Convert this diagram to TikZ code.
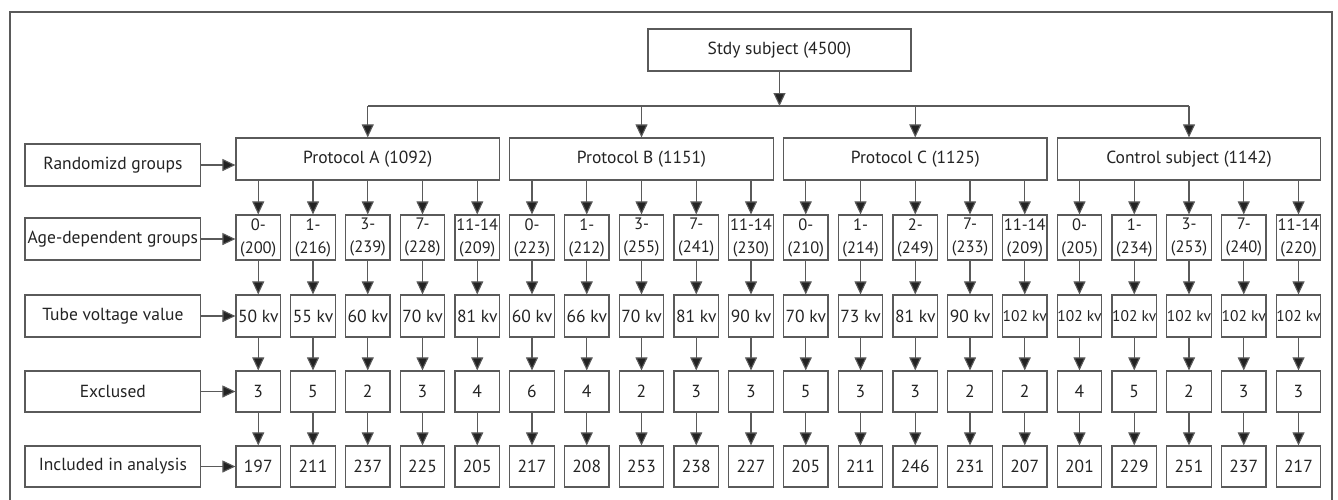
\documentclass[tikz,border=0pt]{standalone}
\usepackage{fontspec}
\setmainfont{PT Sans}
\usetikzlibrary{arrows.meta, positioning}
\definecolor{boxgray}{RGB}{90,90,90}
\definecolor{inkgray}{RGB}{35,35,35}
\newcommand{\smallkv}{\fontsize{15.5}{15.5}\selectfont}

\begin{document}
\begin{tikzpicture}[x=1pt, y=-1pt, font=\fontsize{17.5}{20}\selectfont, text=inkgray,
  box/.style={draw=boxgray, line width=1.2pt, inner sep=0pt, align=center},
  cell/.style={box, minimum width=44.5pt, minimum height=42pt},
  arr/.style={draw=boxgray, line width=1.1pt, -{Triangle[length=13pt, width=12pt, fill=inkgray]}},
  link/.style={draw=boxgray, line width=1.1pt}]
  \useasboundingbox (0,0) rectangle (1338,499);
  \draw[boxgray, line width=1.2pt] (10,505) -- (10,12) -- (1332,12) -- (1332,505);

  \node[box, minimum width=263pt, minimum height=42pt] (top) at (779.5,50) {Stdy subject (4500)};
  \coordinate (hub) at (779.5,106);
  \foreach \lbl [count=\i from 0] in {Protocol A (1092), Protocol B (1151), Protocol C (1125), Control subject (1142)} {
    \node[box, minimum width=263.5pt, minimum height=42pt] (P\i) at (367.75+\i*273.75,159) {\lbl};
  }
  \draw[arr] (top) -- (hub);
  \draw[link] (P0 |- hub) -- (P3 |- hub);
  \foreach \i in {0,...,3} {
    \draw[arr] (P\i |- hub) -- (P\i);
  }

  \foreach \age/\n/\kv/\ex/\inc [count=\j from 0] in {
      0-/200/50 kv/3/197, 1-/216/55 kv/5/211, 3-/239/60 kv/2/237, 7-/228/70 kv/3/225, 11-14/209/81 kv/4/205,
      0-/223/60 kv/6/217, 1-/212/66 kv/4/208, 3-/255/70 kv/2/253, 7-/241/81 kv/3/238, 11-14/230/90 kv/3/227,
      0-/210/70 kv/5/205, 1-/214/73 kv/3/211, 2-/249/81 kv/3/246, 7-/233/90 kv/2/231, 11-14/209/\smallkv 102 kv/2/207,
      0-/205/\smallkv 102 kv/4/201, 1-/234/\smallkv 102 kv/5/229, 3-/253/\smallkv 102 kv/2/251, 7-/240/\smallkv 102 kv/3/237, 11-14/220/\smallkv 102 kv/3/217} {
    \pgfmathtruncatemacro{\g}{\j/5}
    \node[cell, minimum height=45pt, font=\fontsize{16.5}{23}\selectfont] (A\j) at (258.25+\j*54.75,237.5) {\age\\(\n)};
    \node[cell] (V\j) at (258.25+\j*54.75,316) {\kv};
    \node[cell, minimum height=41pt] (E\j) at (258.25+\j*54.75,391.5) {\ex};
    \node[cell, minimum height=41pt] (I\j) at (258.25+\j*54.75,466.5) {\inc};
    \draw[arr] (A\j |- P\g.south) -- (A\j);
    \draw[arr] (A\j) -- (V\j);
    \draw[arr] (V\j) -- (E\j);
    \draw[arr] (E\j) -- (I\j);
  }

  \foreach \lbl/\y/\h [count=\i from 0] in {Randomizd groups/165/42, Age-dependent groups/239/42, Tube voltage value/316/42, Exclused/391.5/41, Included in analysis/466.5/41} {
    \node[box, minimum width=175.7pt, minimum height=\h pt] (L\i) at (112.85,\y) {\lbl};
  }
  \draw[arr] (L0) -- (L0 -| P0.west);
  \draw[arr] (L1) -- (L1 -| A0.west);
  \draw[arr] (L2) -- (L2 -| V0.west);
  \draw[arr] (L3) -- (L3 -| E0.west);
  \draw[arr] (L4) -- (L4 -| I0.west);
\end{tikzpicture}
\end{document}
